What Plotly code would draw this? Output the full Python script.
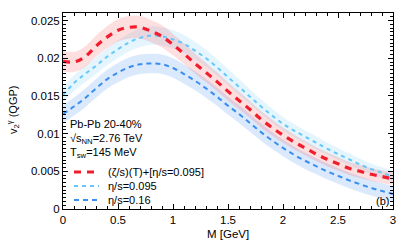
import plotly.graph_objects as go

# ---- data ----
M = [0.0, 0.1, 0.2, 0.3, 0.4, 0.5, 0.6, 0.7, 0.8, 0.9, 1.0, 1.1, 1.2, 1.3, 1.4, 1.5,
     1.6, 1.7, 1.8, 1.9, 2.0, 2.1, 2.2, 2.3, 2.4, 2.5, 2.6, 2.7, 2.8, 2.9, 3.0]

v2_bulk = [0.0196, 0.0195, 0.0202, 0.0216, 0.0228, 0.0237, 0.0241, 0.0241, 0.0236, 0.0229,
           0.0218, 0.0206, 0.0193, 0.0181, 0.0169, 0.0156, 0.0144, 0.0132, 0.0119, 0.0108,
           0.0098, 0.0089, 0.0081, 0.0073, 0.0066, 0.0060, 0.0054, 0.0050, 0.0046, 0.0043, 0.0040]
err_bulk = [0.00135, 0.00134, 0.00137, 0.00141, 0.00145, 0.00148, 0.00150, 0.00150, 0.00148, 0.00146,
            0.00142, 0.00138, 0.00134, 0.00130, 0.00126, 0.00121, 0.00118, 0.00114, 0.00109, 0.00106,
            0.00102, 0.00099, 0.00097, 0.00094, 0.00092, 0.00090, 0.00088, 0.00087, 0.00085, 0.00084, 0.00083]

v2_095 = [0.0151, 0.0167, 0.0179, 0.0190, 0.0202, 0.0212, 0.0221, 0.0227, 0.0230, 0.0229,
          0.0225, 0.0219, 0.0210, 0.0200, 0.0188, 0.0175, 0.0162, 0.0149, 0.0136, 0.0124,
          0.0113, 0.0104, 0.0096, 0.0088, 0.0080, 0.0073, 0.0066, 0.0059, 0.0053, 0.0048, 0.0043]
err_095 = [0.00100, 0.00105, 0.00108, 0.00111, 0.00114, 0.00117, 0.00119, 0.00121, 0.00122, 0.00122,
           0.00121, 0.00119, 0.00117, 0.00114, 0.00111, 0.00107, 0.00104, 0.00100, 0.00097, 0.00093,
           0.00091, 0.00088, 0.00086, 0.00084, 0.00082, 0.00080, 0.00078, 0.00076, 0.00074, 0.00073, 0.00072]

v2_016 = [0.0126, 0.0136, 0.0147, 0.0160, 0.0172, 0.0181, 0.0188, 0.0192, 0.0193, 0.0192,
          0.0187, 0.0179, 0.0170, 0.0160, 0.0149, 0.0137, 0.0126, 0.0114, 0.0102, 0.0091,
          0.0081, 0.0072, 0.0064, 0.0057, 0.0050, 0.0044, 0.0038, 0.0033, 0.0028, 0.0024, 0.0020]
err_016 = [0.00118, 0.00120, 0.00122, 0.00124, 0.00126, 0.00128, 0.00129, 0.00130, 0.00130, 0.00130,
           0.00129, 0.00127, 0.00126, 0.00124, 0.00122, 0.00120, 0.00118, 0.00116, 0.00114, 0.00112,
           0.00111, 0.00109, 0.00108, 0.00107, 0.00106, 0.00105, 0.00104, 0.00103, 0.00102, 0.00101, 0.00100]

y_tickvals = [0, 0.005, 0.01, 0.015, 0.02, 0.025]
y_ticktext = ["0", "0.005", "0.01", "0.015", "0.02", "0.025"]
x_tickvals = [0, 0.5, 1, 1.5, 2, 2.5, 3]
x_ticktext = ["0", "0.5", "1", "1.5", "2", "2.5", "3"]

legend_labels = ["(ζ/s)(T)+[η/s=0.095]", "η/s=0.095", "η/s=0.16"]
info_lines = ["Pb-Pb 20-40%", "√s<sub>NN</sub>=2.76 TeV", "T<sub>sw</sub>=145 MeV"]
y_title = "v<sub>2</sub><sup>γ</sup> (QGP)"
x_title = "M [GeV]"

series = [
    (v2_016, err_016, "rgb(58,142,240)", "rgba(40,125,235,0.17)", 2.0, "5px,4px"),
    (v2_095, err_095, "rgb(102,200,248)", "rgba(100,195,250,0.17)", 2.0, "4px,4px"),
    (v2_bulk, err_bulk, "rgb(240,30,45)", "rgba(250,40,40,0.15)", 3.2, "7px,6px"),
]

fig = go.Figure()
FONT = "Liberation Sans, Arial, sans-serif"

# bands
for vals, err, lc, fc, lw, dash in series:
    up = [v + e for v, e in zip(vals, err)]
    lo = [v - e for v, e in zip(vals, err)]
    fig.add_trace(go.Scatter(x=M, y=lo, mode="lines", line=dict(width=0, shape="spline"),
                             hoverinfo="skip", showlegend=False))
    fig.add_trace(go.Scatter(x=M, y=up, mode="lines", line=dict(width=0, shape="spline"),
                             fill="tonexty", fillcolor=fc, hoverinfo="skip", showlegend=False))

# central lines
for vals, err, lc, fc, lw, dash in series:
    fig.add_trace(go.Scatter(x=M, y=vals, mode="lines",
                             line=dict(color=lc, width=lw, dash=dash, shape="spline"),
                             showlegend=False))

# plot-area pixel geometry
L, R, T, B = 63, 393, 13, 209
W, H = 411, 247

def px(x):
    return (x - L) / (R - L)

def py(y):
    return (B - y) / (B - T)

# info text
for i, t in enumerate(info_lines):
    fig.add_annotation(x=px(68), y=py(124 + 14.5 * i), xref="paper", yref="paper",
                       text=t, showarrow=False, xanchor="left", yanchor="middle",
                       font=dict(family=FONT, size=11, color="black"))

# manual legend
leg_rows = [172, 186, 200]
order = [2, 1, 0]
for row, idx in zip(leg_rows, order):
    vals, err, lc, fc, lw, dash = series[idx]
    fig.add_shape(type="line", xref="paper", yref="paper",
                  x0=px(74), x1=px(99), y0=py(row), y1=py(row),
                  line=dict(color=lc, width=lw, dash=dash))
for row, lab in zip(leg_rows, legend_labels):
    fig.add_annotation(x=px(106), y=py(row), xref="paper", yref="paper",
                       text=lab, showarrow=False, xanchor="left", yanchor="middle",
                       font=dict(family=FONT, size=11, color="black"))

fig.add_annotation(x=px(391), y=py(201), xref="paper", yref="paper", text="(b)",
                   showarrow=False, xanchor="right", yanchor="middle",
                   font=dict(family=FONT, size=11, color="black"))

# axis titles
fig.add_annotation(x=px(13), y=py(110), xref="paper", yref="paper", text=y_title,
                   textangle=-90, showarrow=False, xanchor="center", yanchor="middle",
                   font=dict(family=FONT, size=11, color="black"))
fig.add_annotation(x=px(228), y=py(234), xref="paper", yref="paper", text=x_title,
                   showarrow=False, xanchor="center", yanchor="middle",
                   font=dict(family=FONT, size=11.5, color="black"))

axis_common = dict(showgrid=False, zeroline=False, showline=True, linecolor="black",
                   linewidth=1, mirror="allticks", ticks="inside", ticklen=5, tickwidth=1,
                   tickcolor="black", automargin=False,
                   tickfont=dict(family=FONT, size=11.5, color="black"))

fig.update_xaxes(range=[0, 3], tickmode="array", tickvals=x_tickvals, ticktext=x_ticktext,
                 minor=dict(ticks="inside", ticklen=3, dtick=0.1, tick0=0, tickcolor="black", showgrid=False),
                 **axis_common)
fig.update_yaxes(range=[0, 0.026], tickmode="array", tickvals=y_tickvals, ticktext=y_ticktext,
                 minor=dict(ticks="inside", ticklen=3, dtick=0.0005, tick0=0, tickcolor="black", showgrid=False),
                 **axis_common)

fig.update_layout(width=W, height=H, margin=dict(l=L, r=W - R, t=T, b=H - B),
                  plot_bgcolor="white", paper_bgcolor="white", showlegend=False)

fig.write_html("out.html", config={"displayModeBar": False, "staticPlot": True},
               post_script="document.body.style.margin='0';document.body.style.overflow='hidden';")
